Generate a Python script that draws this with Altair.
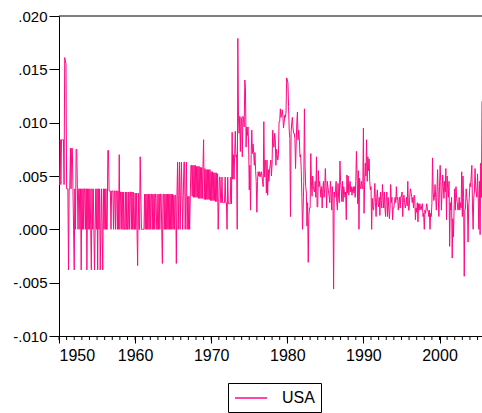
import altair as alt
import pandas as pd

# Monthly values (units of 1e-4), 1950M01 .. 2005M08
y1950 = [42, 42, 84, 42, 84, 84, 84, 84, 42, 161, 158, 155]
y1951 = [38, 38, 38, -38, 38, 38, 76, 38, 76, 76, 38, 0]
y1952 = [-38, 38, 0, 75, 75, 38, 0, 38, 38, 0, 38, -38]
y1953 = [38, 0, 38, 0, 38, 38, 0, 38, -38, 38, 0, 38]
y1954 = [0, 38, 0, -38, 38, 0, 38, 0, -38, 0, 38, 0]
y1955 = [38, -38, 38, 0, 38, -38, 0, 38, 0, -38, 38, 0]
y1956 = [38, 0, 38, 0, 0, 74, 74, 36, 36, 36, 0, 36]
y1957 = [36, 36, 0, 36, 36, 0, 36, 36, 0, 36, 0, 70]
y1958 = [0, 35, 35, 0, 35, 0, 35, 0, 0, 35, 0, 35]
y1959 = [0, 0, 35, 0, 35, 35, 0, 35, 0, 35, 0, 0]
y1960 = [34, 0, 34, 0, -34, 34, 0, 0, 68, 34, 0, 0]
y1961 = [0, 0, 0, 33, 0, 33, 0, 33, 0, 33, 0, 33]
y1962 = [0, 33, 33, 0, 33, 0, 33, 0, 33, 33, 0, 0]
y1963 = [33, 0, 33, 0, 33, 33, 0, -32, 33, 33, 0, 33]
y1964 = [0, 33, 0, 33, 0, 33, 0, 33, 0, 33, 0, 33]
y1965 = [0, 32, 0, 32, 32, -32, 32, 63, 0, 32, 63, 0]
y1966 = [32, 63, 32, 0, 32, 63, 63, 0, 31, 63, 0, 31]
y1967 = [0, 31, 0, 31, 60, 60, 31, 60, 30, 60, 30, 60]
y1968 = [30, 59, 30, 59, 29, 59, 29, 58, 29, 58, 29, 58]
y1969 = [84, 28, 57, 28, 56, 28, 56, 28, 56, 28, 56, 27]
y1970 = [54, 27, 54, 27, 53, 27, 53, 26, 53, 26, 52, 0]
y1971 = [25, 49, 49, 25, 25, 49, 25, 25, 25, 25, 49, 25]
y1972 = [25, 0, 49, 24, 24, 24, 24, 49, 24, 91, 47, 70]
y1973 = [47, 70, 92, 68, 70, 0, 179, 105, 90, 106, 73, 105]
y1974 = [104, 68, 106, 103, 96, 140, 133, 77, 96, 88, 96, 80]
y1975 = [37, 60, 18, 70, 93, 71, 80, 72, 60, 72, 55, 45]
y1976 = [16, 45, 54, 50, 54, 49, 52, 54, 50, 45, 40, 101]
y1977 = [49, 65, 60, 34, 65, 32, 56, 45, 56, 60, 65, 50]
y1978 = [62, 93, 80, 77, 90, 85, 60, 75, 70, 65, 70, 101]
y1979 = [101, 113, 105, 107, 112, 107, 95, 100, 107, 105, 110, 142]
y1980 = [140, 137, 115, 93, 85, 12, 91, 100, 105, 95, 90, 90]
y1981 = [85, 57, 80, 101, 110, 84, 93, 85, 68, 70, 55, 30]
y1982 = [0, 20, 45, 113, 60, 40, 35, 3, 25, -31, 12, 20]
y1983 = [20, 71, 45, 31, 50, 40, 37, 35, 45, 30, 68, 21]
y1984 = [21, 55, 40, 45, 38, 30, 40, 20, 38, 45, 30, 38]
y1985 = [57, 40, 20, 45, 40, 35, 31, 25, 45, 35, 18, 40]
y1986 = [30, -56, 35, 30, 37, 45, 25, 18, 43, 30, 25, 64]
y1987 = [45, 37, 26, 45, 26, 40, 35, 30, 35, 9, 51, 34]
y1988 = [50, 32, 40, 45, 35, 40, 32, 38, 40, 34, 40, 30]
y1989 = [45, 73, 50, 24, 55, 0, 48, 40, 38, 45, 40, 38]
y1990 = [95, 15, 45, 62, 50, 84, 45, 68, 55, 66, 45, 37]
y1991 = [40, 0, 29, 20, 18, 30, 43, 25, 12, 30, 37, 25]
y1992 = [21, 30, 13, 35, 27, 20, 42, 30, 20, 35, 20, 12]
y1993 = [31, 35, 12, 30, 20, 10, 20, 42, 25, 30, 9, 20]
y1994 = [20, 26, 30, 25, 40, 28, 30, 18, 25, 30, 20, 31]
y1995 = [31, 35, 12, 30, 32, 25, 20, 23, 30, 22, 45, 18]
y1996 = [18, 30, 38, 35, 31, 25, 30, 20, 32, 30, 9, 20]
y1997 = [16, 25, 7, 24, 18, 24, 20, 18, 22, 24, 12, 15]
y1998 = [0, 18, 15, 20, 24, 18, 18, 12, 18, 0, 15, 12]
y1999 = [24, 67, 35, 27, 30, 42, 30, 18, 35, 56, 30, 12]
y2000 = [40, 60, 45, 18, 35, 51, 40, 29, 45, 35, 57, 9]
y2001 = [50, 38, 30, 45, -16, 25, 18, 30, -27, 10, -7, 20]
y2002 = [38, 18, 40, 29, 25, 18, 20, 30, 18, 25, 20, 54]
y2003 = [12, 50, 30, -44, 18, 20, 38, 30, 25, -12, 20, 30]
y2004 = [43, 40, 50, 60, 21, 0, 30, 35, 57, 40, 34, 30]
y2005 = [52, 30, 0, 45, -5, 62, 30, 120]

yearly = [y1950, y1951, y1952, y1953, y1954, y1955, y1956, y1957, y1958, y1959,
          y1960, y1961, y1962, y1963, y1964, y1965, y1966, y1967, y1968, y1969,
          y1970, y1971, y1972, y1973, y1974, y1975, y1976, y1977, y1978, y1979,
          y1980, y1981, y1982, y1983, y1984, y1985, y1986, y1987, y1988, y1989,
          y1990, y1991, y1992, y1993, y1994, y1995, y1996, y1997, y1998, y1999,
          y2000, y2001, y2002, y2003, y2004, y2005]

start_year = 1950
series_name = "USA"
decade_ticks = [1950, 1960, 1970, 1980, 1990, 2000]
minor_years = list(range(1950, 2006))
y_ticks = [-0.010, -0.005, 0.000, 0.005, 0.010, 0.015, 0.020]

vals = [v / 10000.0 for yr in yearly for v in yr]
t = [start_year + i / 12.0 for i in range(len(vals))]
df = pd.DataFrame({"t": t, "v": vals, "series": series_name})
x_end = t[-1]

PINK = "#FF0A84"
FONT = "Liberation Sans"

xscale = alt.Scale(domain=[1950, x_end], nice=False, zero=False)
yscale = alt.Scale(domain=[-0.010, 0.020], nice=False, zero=False)

line = alt.Chart(df).mark_line(strokeWidth=1, clip=True).encode(
    x=alt.X("t:Q", scale=xscale,
            axis=alt.Axis(values=decade_ticks, format="d", title=None, grid=False,
                          tickSize=7, labelPadding=4, domainColor="black",
                          tickColor="black", labelColor="black", labelFontSize=16,
                          labelFont=FONT, domainWidth=1, tickWidth=1)),
    y=alt.Y("v:Q", scale=yscale,
            axis=alt.Axis(values=y_ticks, title=None, grid=False, tickSize=10,
                          labelPadding=2, domainColor="black", tickColor="black",
                          labelColor="black", labelFontSize=15, labelFont=FONT,
                          labelExpr="datum.value < 0 ? '-' + substring(format(-datum.value, '.3f'), 1) : substring(format(datum.value, '.3f'), 1)")),
    color=alt.Color("series:N", scale=alt.Scale(range=[PINK]),
                    legend=alt.Legend(title=None, orient="none", legendX=169, legendY=367,
                                      direction="horizontal", symbolType="M-2,0H2",
                                      symbolSize=256, symbolStrokeWidth=1.5, symbolOffset=8,
                                      symbolStrokeColor=PINK,
                                      labelFontSize=16, labelFont=FONT, labelColor="black",
                                      strokeColor="black", fillColor="white", padding=6,
                                      labelOffset=22, cornerRadius=0, rowPadding=0))
)

top = alt.Chart(pd.DataFrame({"y": [0.020]})).mark_rule(color="black", strokeWidth=1).encode(
    y=alt.Y("y:Q", scale=yscale)
)

minor = alt.Chart(pd.DataFrame({"yr": minor_years})).mark_rule(color="black", strokeWidth=1).encode(
    x=alt.X("yr:Q", scale=xscale),
    y=alt.value(320),
    y2=alt.value(324),
)

chart = alt.layer(line, top, minor).properties(
    width=423, height=320,
    padding={"left": 59, "top": 16, "right": 0, "bottom": 77},
    autosize=alt.AutoSizeParams(type="none"),
    background="white",
).configure_view(stroke=None)

chart.save("out.html", embed_options={"renderer": "svg", "actions": False})
